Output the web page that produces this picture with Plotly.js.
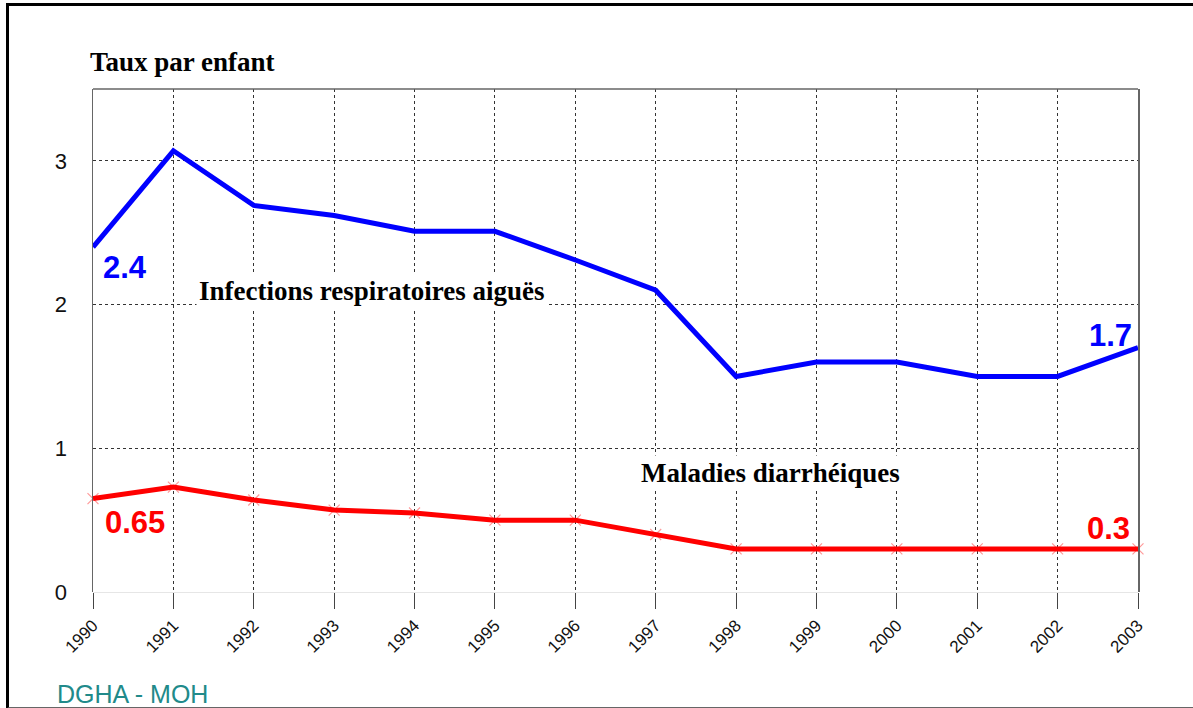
<!DOCTYPE html>
<html>
<head>
<meta charset="utf-8">
<script src="https://cdn.plot.ly/plotly-3.0.1.min.js"></script>
<style>
  html, body { margin: 0; padding: 0; background: #fff; }
  #chart { width: 1193px; height: 708px; }
  #frame { position: absolute; left: 6px; top: 3px; width: 1184px; height: 701px;
           border-left: 3px solid #000; border-top: 3px solid #000; border-bottom: 2px solid #666;
           pointer-events: none; }
</style>
</head>
<body>
<div id="chart"></div>
<div id="frame"></div>
<script>
const years = [1990, 1991, 1992, 1993, 1994, 1995, 1996, 1997, 1998, 1999, 2000, 2001, 2002, 2003];
const ira = [2.4, 3.07, 2.69, 2.62, 2.51, 2.51, 2.31, 2.1, 1.5, 1.6, 1.6, 1.5, 1.5, 1.7];
const diarrhee = [0.65, 0.73, 0.64, 0.57, 0.55, 0.5, 0.5, 0.4, 0.3, 0.3, 0.3, 0.3, 0.3, 0.3];
const yTicks = [0, 1, 2, 3];
const xTickLabels = years.map(String);

const traces = [
  { x: years, y: diarrhee, mode: 'markers', type: 'scatter', showlegend: false, hoverinfo: 'skip',
    marker: { symbol: 'x-thin', size: 11, line: { color: '#ff9a9a', width: 1.2 } }, cliponaxis: false },
  { x: years, y: diarrhee, mode: 'lines', type: 'scatter', name: 'Maladies diarrhéiques',
    line: { color: '#ff0000', width: 5 }, cliponaxis: false },
  { x: years, y: ira, mode: 'lines', type: 'scatter', name: 'Infections respiratoires aiguës',
    line: { color: '#0000ff', width: 5 }, cliponaxis: false }
];

const serif = 'Liberation Serif, Times New Roman, serif';
const sans = 'Liberation Sans, Arial, sans-serif';

const layout = {
  width: 1193, height: 708,
  margin: { l: 93, r: 55, t: 89, b: 116 },
  paper_bgcolor: '#fff', plot_bgcolor: '#fff',
  showlegend: false,
  xaxis: {
    range: [1990, 2003], tickmode: 'array', tickvals: years, ticktext: xTickLabels,
    tickangle: -45, tickfont: { family: sans, size: 17, color: '#111' },
    ticks: 'outside', ticklen: 16, tickcolor: '#444', tickwidth: 1,
    showgrid: true, gridcolor: '#333', griddash: 'dot', gridwidth: 1,
    zeroline: false, showline: false
  },
  yaxis: {
    range: [0, 3.5], tickmode: 'array', tickvals: yTicks, ticktext: yTicks.map(String),
    tickfont: { family: sans, size: 22, color: '#111' }, ticks: '', ticklabelstandoff: 20,
    showgrid: true, gridcolor: '#333', griddash: 'dot', gridwidth: 1,
    zeroline: true, zerolinecolor: '#e6e6e6', zerolinewidth: 1,
    showline: true, linecolor: '#666', linewidth: 1.5, mirror: true
  },
  shapes: [
    { type: 'line', xref: 'paper', yref: 'paper', x0: 0, x1: 1, y0: 1, y1: 1,
      line: { color: '#666', width: 1.5 } }
  ],
  annotations: [
    { text: 'Taux par enfant', xref: 'paper', yref: 'paper', x: -0.005, y: 1.054,
      xanchor: 'left', yanchor: 'middle', showarrow: false,
      font: { family: serif, size: 27, color: '#000', weight: 'bold' } },
    { text: 'Infections respiratoires aiguës', xref: 'x', yref: 'y', x: 1993.47, y: 2.095,
      xanchor: 'center', yanchor: 'middle', showarrow: false, bgcolor: '#fff', borderpad: 2,
      font: { family: serif, size: 27, color: '#000', weight: 'bold' } },
    { text: 'Maladies diarrhéiques', xref: 'x', yref: 'y', x: 1998.43, y: 0.828,
      xanchor: 'center', yanchor: 'middle', showarrow: false, bgcolor: '#fff', borderpad: 2,
      font: { family: serif, size: 27, color: '#000', weight: 'bold' } },
    { text: '2.4', xref: 'x', yref: 'y', x: 1990.4, y: 2.255, showarrow: false,
      font: { family: sans, size: 31, color: '#0000ff', weight: 'bold' } },
    { text: '1.7', xref: 'x', yref: 'y', x: 2002.66, y: 1.788, showarrow: false,
      font: { family: sans, size: 31, color: '#0000ff', weight: 'bold' } },
    { text: '0.65', xref: 'x', yref: 'y', x: 1990.52, y: 0.487, showarrow: false,
      font: { family: sans, size: 31, color: '#ff0000', weight: 'bold' } },
    { text: '0.3', xref: 'x', yref: 'y', x: 2002.63, y: 0.445, showarrow: false,
      font: { family: sans, size: 31, color: '#ff0000', weight: 'bold' } },
    { text: 'DGHA - MOH', xref: 'paper', yref: 'paper', x: -0.0364, y: -0.203,
      xanchor: 'left', yanchor: 'middle', showarrow: false,
      font: { family: sans, size: 25, color: '#218a8a' } }
  ]
};

Plotly.newPlot('chart', traces, layout, { displayModeBar: false, staticPlot: true });
</script>
</body>
</html>
